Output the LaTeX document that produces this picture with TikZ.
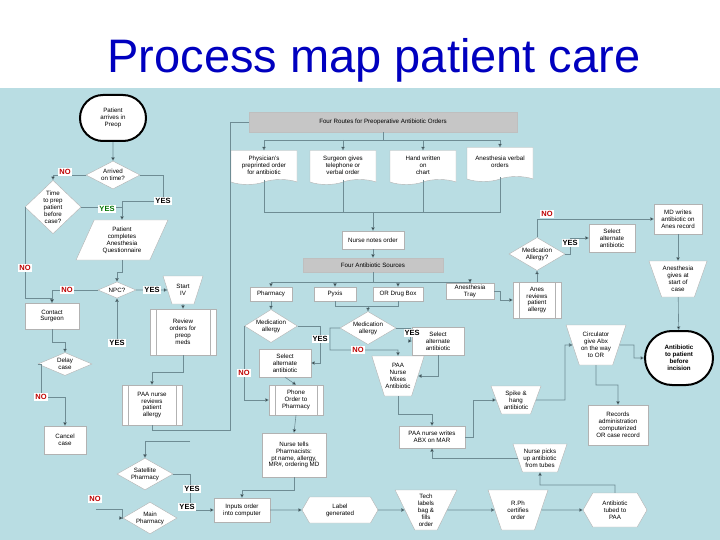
\documentclass[tikz,border=0pt]{standalone}
\usepackage{fontspec}
\setmainfont{Liberation Sans}
\usetikzlibrary{shapes.geometric,shapes.symbols,shapes.misc,arrows.meta}
\definecolor{bg}{RGB}{185,221,227}
\definecolor{lnc}{RGB}{110,140,148}
\begin{document}
\begin{tikzpicture}[x=1pt,y=-1pt,
  every node/.style={font=\fontsize{6.2}{6.9}\selectfont,align=center,inner sep=1pt},
  box/.style={draw=gray!60,fill=white,rectangle,minimum width=#1,minimum height=24},
  grey/.style={fill=gray!45,draw=gray!50,rectangle,minimum width=#1,minimum height=18},
  dia/.style={draw=gray!60,fill=white,diamond,aspect=1.6,inner sep=0.5pt},
  trap/.style={draw=gray!60,fill=white,trapezium,trapezium left angle=65,trapezium right angle=65,shape border rotate=180,minimum width=#1,minimum height=32,trapezium stretches=true},
  para/.style={draw=gray!60,fill=white,trapezium,trapezium left angle=65,trapezium right angle=115,minimum height=36,trapezium stretches=true,minimum width=#1},
  hex/.style={draw=gray!60,fill=white,signal,signal to=west and east,signal pointer angle=120,minimum width=#1,minimum height=28},
  doc/.style={draw=gray!60,fill=white,tape,tape bend top=none,tape bend height=5,minimum width=#1,minimum height=34},
  pre/.style={box=#1,path picture={\draw[gray!60] ([xshift=6pt]path picture bounding box.north west)--([xshift=6pt]path picture bounding box.south west);
     \draw[gray!60] ([xshift=-6pt]path picture bounding box.north east)--([xshift=-6pt]path picture bounding box.south east);}},
  term/.style={draw=black,line width=2pt,fill=white,rounded rectangle,minimum width=#1,minimum height=48},
  no/.style={fill=white,text=red!75!black,font=\fontsize{7.5}{8}\selectfont\bfseries,inner sep=1pt},
  yes/.style={fill=white,text=black,font=\fontsize{7.5}{8}\selectfont\bfseries,inner sep=1pt},
  yesg/.style={fill=white,text=green!45!black,font=\fontsize{7.5}{8}\selectfont\bfseries,inner sep=1pt},
  ln/.style={draw=lnc,line width=0.6pt},
  ar/.style={ln,-{Triangle[length=3.5pt,width=3.5pt,fill=black]}}]
\fill[white] (0,0) rectangle (720,88);
\fill[bg] (0,88) rectangle (720,540);
\node[font=\fontsize{47}{50}\selectfont,text=blue!75!black] (title) at (374,60) {Process map patient care};

% left column
\node[term=68,minimum height=46] (start) at (113,118) {Patient\\arrives in\\Preop};
\node[dia,minimum width=54] (d1) at (113,175) {Arrived\\on time?};
\node[dia,aspect=1,minimum width=56] (d2) at (53,207) {Time\\to prep\\patient\\before\\case?};
\node[para=92,minimum height=40] (q) at (122,240) {Patient\\completes\\Anesthesia\\Questionnaire};
\node[dia,minimum width=38] (d3) at (117,290) {NPC?};
\node[trap=40,minimum height=28] (iv) at (183,290) {Start\\IV};
\node[box=54,minimum height=26] (cs) at (52,316) {Contact\\Surgeon};
\node[pre=66,minimum height=46] (rev) at (183,332) {Review\\orders for\\preop\\meds};
\node[dia,minimum width=54] (delay) at (65,364) {Delay\\case};
\node[pre=60,minimum height=40] (paa) at (152,405) {PAA nurse\\reviews\\patient\\allergy};
\node[box=42,minimum height=28] (cancel) at (65,440) {Cancel\\case};
\node[dia,minimum width=56] (sat) at (145,474) {Satellite\\Pharmacy};
\node[dia,minimum width=54] (main) at (150,518) {Main\\Pharmacy};

% top middle
\node[grey=268,minimum height=20] (routes) at (383,122) {Four Routes for Preoperative Antibiotic Orders};
\node[doc=66] (o1) at (264,165) {Physician's\\preprinted order\\for antibiotic};
\node[doc=66] (o2) at (343,165) {Surgeon gives\\telephone or\\verbal order};
\node[doc=66] (o3) at (423,165) {Hand written\\on\\chart};
\node[doc=66] (o4) at (500,162) {Anesthesia verbal\\orders};
\node[box=62,minimum height=18] (notes) at (373,240) {Nurse notes order};
\node[grey=140,minimum height=14] (src) at (373,265) {Four Antibiotic Sources};
\node[box=42,minimum height=14] (ph) at (271,294) {Pharmacy};
\node[box=42,minimum height=14] (py) at (335,294) {Pyxis};
\node[box=50,minimum height=14] (ob) at (398,294) {OR Drug Box};
\node[box=48,minimum height=16] (at) at (470,291) {Anesthesia\\Tray};
\node[dia,minimum width=50] (ma1) at (271,326) {Medication\\allergy};
\node[dia,minimum width=56] (ma2) at (368,328) {Medication\\allergy};
\node[box=52,minimum height=28] (sa1) at (285,363) {Select\\alternate\\antibiotic};
\node[box=52,minimum height=28] (sa2) at (438,341) {Select\\alternate\\antibiotic};
\node[trap=52,minimum height=40] (mix) at (398,376) {PAA\\Nurse\\Mixes\\Antibiotic};
\node[pre=54,minimum height=30] (phone) at (296,400) {Phone\\Order to\\Pharmacy};
\node[box=64,minimum height=44] (tells) at (294,455) {Nurse tells\\Pharmacists:\\pt name, allergy,\\MR\#, ordering MD};
\node[box=66,minimum height=22] (writes) at (432,437) {PAA nurse writes\\ABX on MAR};
\node[trap=50,minimum height=28] (spike) at (516,400) {Spike \&\\hang\\antibiotic};

% bottom row
\node[box=56,minimum height=24] (inp) at (242,510) {Inputs order\\into computer};
\node[hex=76,minimum height=26] (lab) at (340,510) {Label\\generated};
\node[trap=62,minimum height=40] (tech) at (426,510) {Tech\\labels\\bag \&\\fills\\order};
\node[trap=60,minimum height=40] (rph) at (518,510) {R.Ph\\certifies\\order};
\node[hex=64,minimum height=34] (tube) at (615,510) {Antibiotic\\tubed to\\PAA};
\node[trap=52,minimum height=28] (pick) at (540,458) {Nurse picks\\up antibiotic\\from tubes};

% right
\node[pre=48,minimum height=36] (anes) at (537,300) {Anes\\reviews\\patient\\allergy};
\node[dia,minimum width=56] (ma3) at (537,254) {Medication\\Allergy?};
\node[box=46,minimum height=28] (sa3) at (612,238) {Select\\alternate\\antibiotic};
\node[box=48,minimum height=30] (md) at (678,219) {MD writes\\antibiotic on\\Anes record};
\node[trap=58,minimum height=36] (give) at (678,279) {Anesthesia\\gives at\\start of\\case};
\node[term=70,minimum height=54,font=\fontsize{6.2}{6.9}\selectfont\bfseries] (pat) at (679,358) {Antibiotic\\to patient\\before\\incision};
\node[trap=60,minimum height=40] (circ) at (596,345) {Circulator\\give Abx\\on the way\\to OR};
\node[box=60,minimum height=40] (rec) at (618,425) {Records\\administration\\computerized\\OR case record};

% connectors left
\draw[ar] (start) -- (d1);
\draw[ar] (d1.west) -| (d2.north);
\draw[ar] (d1.east) -- (163,175) -- (163,201) -| (q.north);
\draw[ln] (d2.east) -- (122,207);
\draw[ar] (d2.west) -- (25,207) -- (25,298) -| (cs.north);
\draw[ar] (q.south) |- (117,272) -- (d3.north);
\draw[ar] (d3.west) -| (cs.north);
\draw[ar] (d3.east) -- (iv.west);
\draw[ar] (iv.south) -- (rev.north);
\coordinate (y1) at (117,345);
\draw[ar] (y1) -- (d3.south);
\draw[ar] (cs.south) |- (65,342) -- (delay.north);
\draw[ar] (delay.west) -- (41,364) |- (65,397) -- (cancel.north);
\draw[ar] (rev.south) -- (183,372) -| (paa.north);
\draw[ln] (routes.west) -| (230,430) -| (paa.south);
\draw[ar] (190,441) -| (sat.north);
\draw[ar] (sat.east) -- (190,474) |- (inp.west);
\coordinate (m1) at (96,509);
\draw[ar] (m1) -- (122,509) |- (main.west);
\node[no] at (65,172) {NO};
\node[yesg] at (107,209) {YES};
\node[yes] at (163,201) {YES};
\node[no] at (25,268) {NO};
\node[no] at (67,290) {NO};
\node[yes] at (152,290) {YES};
\node[yes] at (117,343) {YES};
\node[no] at (41,397) {NO};
\node[yes] at (192,489) {YES};
\node[no] at (95,499) {NO};
\node[yes] at (187,507) {YES};

% connectors middle
\draw[ar] (routes.south) -- (383,140) -| (o1.north);
\draw[ar] (343,140) -- (o2.north);
\draw[ar] (383,140) -| (o3.north);
\draw[ar] (423,140) -| (o4.north);
\draw[ln] (o1.south) -- (264,212) -| (o4.south);
\draw[ln] (o2.south) -- (343,212); \draw[ln] (o3.south) -- (423,212);
\draw[ar] (373,212) -- (notes.north);
\draw[ar] (notes) -- (src);
\draw[ar] (src.south) -- (373,282) -| (ph.north);
\draw[ar] (335,282) -- (py.north);
\draw[ar] (373,282) -| (ob.north);
\draw[ar] (398,282) -| (at.north);
\draw[ar] (ph) -- (ma1);
\draw[ln] (py.south) |- (368,306); \draw[ln] (ob.south) |- (368,306);
\draw[ar] (368,306) -- (ma2.north);
\draw[ar] (ma1.east) -- (320,326) |- (sa1.east);
\draw[ar] (ma1.west) -- (244,326) |- (phone.west);
\draw[ar] (sa1.south) -- (phone.north);
\draw[ar] (phone.south) -- (tells.north);
\draw[ar] (tells.south) -- (294,490) -| (inp.north);
\draw[ar] (ma2.east) -- (410,328) |- (sa2.west);
\draw[ar] (ma2.west) -- (330,328) |- (398,350) -- (mix.north);
\draw[ar] (sa2.south) |- (mix.east);
\draw[ar] (mix.south) |- (432,414) -- (writes.north);
\draw[ar] (writes.east) -- (473,437) |- (spike.west);
\draw[ar] (spike.east) -- (565,400) |- (circ.west);
\draw[ar] (pick.west) -| (writes.south);
\node[yes] at (320,339) {YES};
\node[no] at (244,373) {NO};
\node[yes] at (412,333) {YES};
\node[no] at (358,350) {NO};

% bottom
\draw[ar] (inp) -- (lab);
\draw[ar] (lab) -- (tech);
\draw[ar] (tech) -- (rph);
\draw[ar] (rph) -- (tube);
\draw[ar] (tube.north) |- (540,485) -- (pick.south);

% right
\draw[ar] (at.east) -- (500,291) |- (anes.west);
\draw[ar] (anes.north) -- (ma3.south);
\draw[ar] (ma3.east) -- (570,254) |- (sa3.west);
\draw[ar] (ma3.north) |- (md.west);
\draw[ar] (md) -- (give);
\draw[ar] (give) -- (pat);
\draw[ar] (circ.east) -- (634,345) |- (pat.west);
\draw[ar] (circ.south) -- (596,385) -| (rec.north);
\node[yes] at (570,243) {YES};
\node[no] at (547,214) {NO};
\end{tikzpicture}
\end{document}
